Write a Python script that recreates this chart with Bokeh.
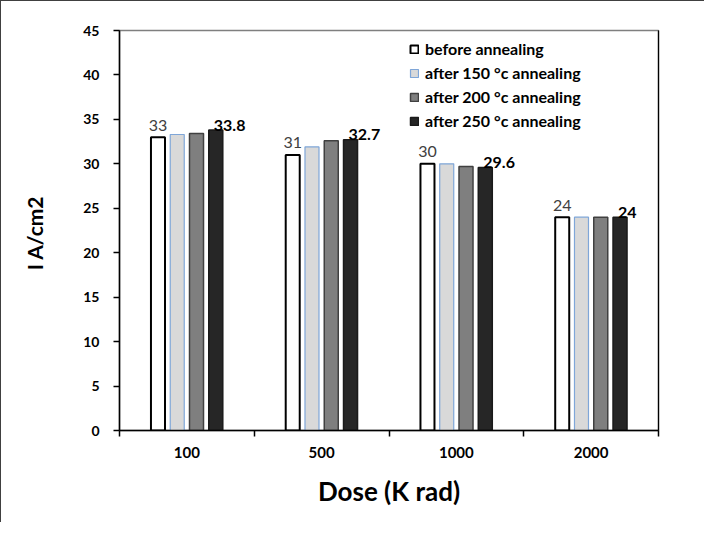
import numpy as np
from bokeh.plotting import figure
from bokeh.models import ColumnDataSource, FixedTicker, LinearAxis, Legend, LegendItem, Range1d
from bokeh.core.properties import value
from bokeh.embed import file_html
from bokeh.resources import INLINE

# ---- data ----
doses = ["100", "500", "1000", "2000"]
series_names = ["before annealing", "after 150 \u00b0c annealing",
                "after 200 \u00b0c annealing", "after 250 \u00b0c annealing"]
before = [33.0, 31.0, 30.0, 24.0]
after150 = [33.3, 31.9, 30.0, 24.0]
after200 = [33.4, 32.6, 29.7, 24.0]
after250 = [33.8, 32.7, 29.6, 24.0]
y_ticks = [0, 5, 10, 15, 20, 25, 30, 35, 40, 45]

series = [before, after150, after200, after250]
fills = ["#FFFFFF", "#D9D9D9", "#7F7F7F", "#262626"]
lines = ["#000000", "#7FA6D8", "#404040", "#1A1A1A"]
lwidths = [2.0, 1.2, 1.5, 1.5]

FONTNAME = "Lato"
FONT = value(FONTNAME)

p = figure(width=704, height=522, x_range=Range1d(0, 4), y_range=Range1d(0, 45),
           output_backend="svg", toolbar_location=None,
           min_border_left=118, min_border_right=47, min_border_top=29, min_border_bottom=93)
p.styles = {"border-left": "1px solid #404040", "border-top": "1px solid #404040"}
p.xgrid.visible = False
p.ygrid.visible = False
p.outline_line_color = "#7F7F7F"
p.outline_line_width = 1.5
p.background_fill_color = "#FFFFFF"
p.border_fill_color = "#FFFFFF"

centers = np.arange(len(doses)) + 0.5
step = 0.143
bar_w = 0.104
offsets = (np.arange(len(series)) - 1.5) * step

items = []
for k, vals in enumerate(series):
    src = ColumnDataSource(dict(x=centers + offsets[k], top=vals,
                                lab=[f"{v:g}" for v in vals]))
    r = p.vbar(x="x", top="top", width=bar_w, bottom=0, source=src,
               fill_color=fills[k], line_color=lines[k], line_width=lwidths[k])
    items.append(LegendItem(label=series_names[k], renderers=[r]))
    if k == 0:
        p.text(x="x", y="top", text="lab", source=src, text_align="center",
               text_baseline="middle", y_offset=-12, text_font=FONT,
               text_font_size="16px", text_color="#404040")
    elif k == len(series) - 1:
        p.text(x="x", y="top", text="lab", source=src, text_align="left",
               text_baseline="middle", y_offset=-5, x_offset=-2, text_font=FONT,
               text_font_size="16px", text_font_style="bold", text_color="#000000")

# y axis
ya = p.yaxis[0]
ya.ticker = FixedTicker(ticks=y_ticks)
ya.minor_tick_line_color = None
ya.major_tick_in = 0
ya.major_tick_out = 6
ya.major_tick_line_color = "#000000"
ya.major_tick_line_width = 1.5
ya.axis_line_color = "#000000"
ya.axis_line_width = 1.5
ya.major_label_text_font = FONTNAME
ya.major_label_text_font_size = "14px"
ya.major_label_text_font_style = "bold"
ya.major_label_text_color = "#000000"
ya.major_label_standoff = 14
ya.axis_label = "I  A/cm2"
ya.axis_label_text_font = FONTNAME
ya.axis_label_text_font_size = "21px"
ya.axis_label_text_font_style = "bold"
ya.axis_label_text_color = "#000000"
ya.axis_label_standoff = 33

# x axis: labels at category centres (major), ticks at category boundaries (minor)
xa = p.xaxis[0]
xa.ticker = FixedTicker(ticks=list(centers), minor_ticks=list(range(len(doses) + 1)))
xa.major_label_overrides = {float(c): d for c, d in zip(centers, doses)}
xa.major_tick_line_color = None
xa.major_tick_in = 0
xa.major_tick_out = 0
xa.minor_tick_in = 0
xa.minor_tick_out = 6
xa.minor_tick_line_color = "#000000"
xa.minor_tick_line_width = 1.5
xa.axis_line_color = "#000000"
xa.axis_line_width = 1.5
xa.major_label_standoff = 10
xa.major_label_text_font = FONTNAME
xa.major_label_text_font_size = "15px"
xa.major_label_text_font_style = "bold"
xa.major_label_text_color = "#000000"
xa.axis_label = "Dose (K rad)"
xa.axis_label_text_font = FONTNAME
xa.axis_label_text_font_size = "26px"
xa.axis_label_text_font_style = "bold"
xa.axis_label_text_color = "#000000"
xa.axis_label_standoff = 14

# right border line
ra = LinearAxis(ticker=FixedTicker(ticks=[]))
ra.axis_line_color = "#000000"
ra.axis_line_width = 1.2
ra.major_tick_line_color = None
ra.minor_tick_line_color = None
p.add_layout(ra, "right")

legend = Legend(items=items, location=(290, 300), glyph_width=10, glyph_height=10,
                label_standoff=6, spacing=5, padding=0, margin=0,
                label_text_font=FONTNAME, label_text_font_size="16px",
                label_text_font_style="bold", label_text_color="#000000",
                border_line_color=None, background_fill_alpha=0)
p.add_layout(legend, "center")

open("out.html", "w").write(file_html(p, INLINE))
